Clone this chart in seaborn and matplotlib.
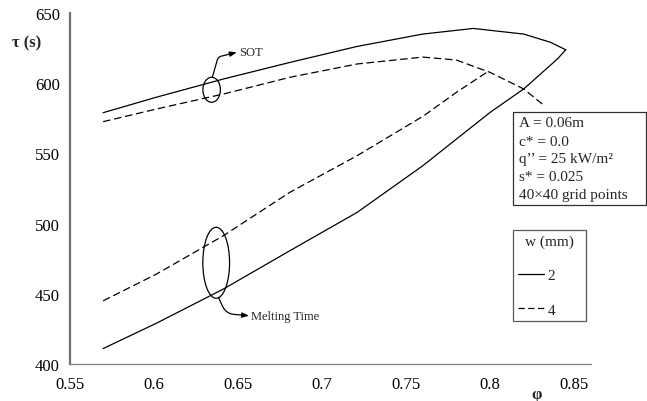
import numpy as np
import pandas as pd
import matplotlib
matplotlib.use("Agg")
import matplotlib.pyplot as plt
import seaborn as sns
from matplotlib.patches import Ellipse, Rectangle
from matplotlib.lines import Line2D

# ---- data ----
phi_sot_w2 = [0.570, 0.6016, 0.6415, 0.681, 0.721, 0.760, 0.790, 0.820, 0.836, 0.845]
tau_sot_w2 = [579.0, 590.0, 603.0, 614.8, 626.2, 635.0, 639.0, 635.0, 629.1, 623.8]

phi_melt_w2 = [0.570, 0.6016, 0.6415, 0.681, 0.721, 0.760, 0.800, 0.820, 0.840, 0.845]
tau_melt_w2 = [411.0, 429.0, 453.4, 480.7, 508.0, 541.2, 579.2, 595.9, 617.2, 623.8]

phi_sot_w4 = [0.570, 0.6016, 0.6415, 0.681, 0.721, 0.760, 0.780, 0.800, 0.820, 0.831]
tau_sot_w4 = [572.6, 581.6, 592.3, 604.2, 613.7, 618.6, 616.5, 607.7, 595.9, 585.2]

phi_melt_w4 = [0.570, 0.6016, 0.6415, 0.681, 0.721, 0.7606, 0.780, 0.798]
tau_melt_w4 = [445.0, 464.0, 491.4, 522.3, 548.4, 576.8, 593.5, 607.7]

w_levels = ["2", "4"]
x_ticks = [0.55, 0.6, 0.65, 0.7, 0.75, 0.8, 0.85]
x_tick_labels = ["0.55", "0.6", "0.65", "0.7", "0.75", "0.8", "0.85"]
y_ticks = [400, 450, 500, 550, 600, 650]

info_lines = ["A = 0.06m", "c* = 0.0", "q\u2019\u2019 = 25 kW/m\u00b2", "s* = 0.025",
              "40\u00d740 grid points"]

frames = []
for w, curve, phi, tau in [("2", "SOT", phi_sot_w2, tau_sot_w2),
                           ("2", "Melting", phi_melt_w2, tau_melt_w2),
                           ("4", "SOT", phi_sot_w4, tau_sot_w4),
                           ("4", "Melting", phi_melt_w4, tau_melt_w4)]:
    frames.append(pd.DataFrame({"phi": phi, "tau": tau, "w": w, "curve": curve}))
df = pd.concat(frames, ignore_index=True)

sns.set_style("white")
plt.rcParams["font.family"] = ["Liberation Serif", "DejaVu Serif"]

fig = plt.figure(figsize=(6.47, 4.02), dpi=100)
ax = fig.add_axes([69.5 / 647, 1 - 365 / 402, 521.5 / 647, 351 / 402])

sns.lineplot(data=df, x="phi", y="tau", style="w", units="curve", estimator=None,
             sort=False, color="black", dashes={"2": "", "4": (6, 3)},
             style_order=w_levels, lw=0.9, ax=ax, legend=False)

ax.set_xlim(0.55, 0.86)
ax.set_ylim(400, 650)
ax.set_xticks(x_ticks)
ax.set_xticklabels(x_tick_labels)
ax.set_yticks(y_ticks)
ax.tick_params(axis="both", labelsize=12, colors="#707070", labelcolor="black")
ax.tick_params(axis="x", direction="in", length=4, pad=9)
ax.tick_params(axis="y", direction="out", length=4, pad=3)

for s in ["top", "right"]:
    ax.spines[s].set_visible(False)
ax.spines["left"].set_color("#707070")
ax.spines["left"].set_linewidth(1.6)
ax.spines["bottom"].set_color("#808080")
ax.spines["bottom"].set_linewidth(0.9)

ax.set_xlabel("\u03c6", fontsize=12, fontweight="bold")
ax.xaxis.set_label_coords((537 - 69.5) / 521.5, (365 - 395) / 351)
ax.xaxis.label.set_va("center")
ax.set_ylabel("\u03c4 (s)", fontsize=12, fontweight="bold", rotation=0)
ax.yaxis.set_label_coords((27 - 69.5) / 521.5, (365 - 43) / 351)
ax.yaxis.label.set_va("center")
ax.yaxis.label.set_ha("center")

# ellipses + annotations
ax.add_patch(Ellipse((0.6345, 595.3), 0.0104, 17.8, fill=False, ec="black", lw=0.9))
ax.add_patch(Ellipse((0.6372, 472.1), 0.0159, 50.6, fill=False, ec="black", lw=0.9))

ax.annotate("", xy=(0.6494, 622.0), xytext=(0.6349, 604.2),
            arrowprops=dict(arrowstyle="-|>,head_length=0.4,head_width=0.15", color="black",
                            lw=0.9, shrinkA=0, shrinkB=0,
                            connectionstyle="angle,angleA=74,angleB=14,rad=3"))
ax.text(0.6506, 622.0, "SOT", fontsize=9, va="center", ha="left")

ax.annotate("", xy=(0.6567, 434.4), xytext=(0.6385, 447.5),
            arrowprops=dict(arrowstyle="-|>,head_length=0.4,head_width=0.15", color="black",
                            lw=0.9, shrinkA=0, shrinkB=0,
                            connectionstyle="angle,angleA=-65,angleB=-5,rad=8"))
ax.text(0.6578, 434.4, "Melting Time", fontsize=9, va="center", ha="left")

# info box
fig.patches.append(Rectangle((513 / 647, 1 - 206 / 402), 133 / 647, 93 / 402,
                             transform=fig.transFigure, fill=False, ec="#303030", lw=0.9))
for i, line in enumerate(info_lines):
    fig.text(519 / 647, 1 - (124 + 18 * i) / 402, line, fontsize=11, va="center", ha="left")

# legend
handles = [Line2D([], [], color="black", lw=0.9, linestyle="-"),
           Line2D([], [], color="black", lw=0.9, dashes=(5, 2.8))]
leg = ax.legend(handles, w_levels, title="w (mm)", loc="upper left",
                bbox_to_anchor=(513 / 647, 1 - 322 / 402, 73 / 647, 91 / 402),
                bbox_transform=fig.transFigure, mode="expand", fontsize=11,
                title_fontsize=11, frameon=True, fancybox=False, shadow=False,
                borderpad=0.3, labelspacing=1.35, handlelength=1.7,
                handletextpad=0.25, borderaxespad=0)
leg.get_frame().set_edgecolor("#303030")
leg.get_frame().set_linewidth(0.9)

fig.savefig("out.png", dpi=100)
